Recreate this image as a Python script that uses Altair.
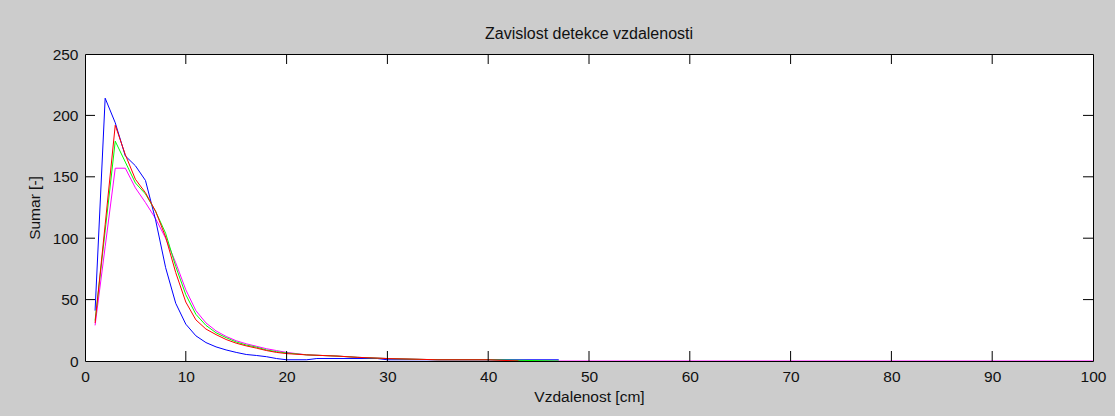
import altair as alt
import pandas as pd

# ---- data ----
x_blue = list(range(1, 21)) + [22, 23, 29, 30, 47]
y_blue = [41, 214, 194, 167, 159, 147, 115, 76, 47, 30, 20.5, 15, 11.5, 9, 7,
          5.3, 4.5, 3.5, 2, 1, 1, 2, 2, 1, 1]

x_red = list(range(1, 21)) + [22, 25, 27, 30, 35, 40, 43]
y_red = [31, 111, 192, 168, 148, 137, 122, 101, 72, 48, 33.5, 26, 21.5, 17.5,
         14.5, 12.3, 10.5, 8.5, 7, 6, 5, 4, 3, 2, 1, 1, 0]

x_green = list(range(1, 21)) + [22, 25, 27, 30, 35, 40, 47]
y_green = [33, 106, 179, 162, 145, 136, 122, 104, 77, 54, 38, 29, 23, 19,
           15.5, 13, 11.3, 9, 7.6, 6.5, 5, 4, 3, 2, 1, 1, 0]

x_magenta = list(range(1, 21)) + [22, 25, 27, 30, 35, 40, 45, 100]
y_magenta = [29, 93, 157, 157, 141, 129, 116, 100, 80, 58, 41, 31, 24.5, 20,
             16.5, 14, 12, 10, 8.5, 7, 5, 4, 3, 2, 1, 1, 0, 0]

x_ticks = [0, 10, 20, 30, 40, 50, 60, 70, 80, 90, 100]
y_ticks = [0, 50, 100, 150, 200, 250]

title_text = "Zavislost detekce vzdalenosti"
x_title = "Vzdalenost [cm]"
y_title = "Sumar [-]"

# drawing order: bottom -> top
series = [
    ("magenta", x_magenta, y_magenta, "#ff00ff"),
    ("blue", x_blue, y_blue, "#0000ff"),
    ("green", x_green, y_green, "#00ff00"),
    ("red", x_red, y_red, "#ff0000"),
]

W, H = 1008, 307
FONT = "Liberation Sans"
TICK = 10

xscale = alt.Scale(domain=[0, 100], nice=False, zero=False)
yscale = alt.Scale(domain=[0, 250], nice=False, zero=False)

xaxis = alt.Axis(title=x_title, values=x_ticks, tickSize=0, domain=False, grid=False,
                 labelFontSize=15.5, labelFont=FONT, labelColor="#111111",
                 labelPadding=8, labelOverlap=False, labelFlush=False,
                 titleFontSize=15.5, titleFont=FONT, titleFontWeight="normal",
                 titleColor="#111111", titlePadding=5)
yaxis = alt.Axis(title=y_title, values=y_ticks, tickSize=0, domain=False, grid=False,
                 labelFontSize=15.5, labelFont=FONT, labelColor="#111111",
                 labelPadding=7, labelOverlap=False, labelFlush=False,
                 titleFontSize=15.5, titleFont=FONT, titleFontWeight="normal",
                 titleColor="#111111", titlePadding=10)

layers = []
for name, xs, ys, col in series:
    df = pd.DataFrame({"x": xs, "y": ys})
    layers.append(
        alt.Chart(df).mark_line(color=col, strokeWidth=1, clip=True).encode(
            x=alt.X("x:Q", scale=xscale, axis=xaxis),
            y=alt.Y("y:Q", scale=yscale, axis=yaxis),
        )
    )

xt = pd.DataFrame({"t": x_ticks[1:-1]})
yt = pd.DataFrame({"t": y_ticks[1:-1]})

tick_color = "#000000"
layers.append(alt.Chart(xt).mark_rule(color=tick_color, strokeWidth=1).encode(
    x=alt.X("t:Q", scale=xscale, axis=xaxis), y=alt.value(H), y2=alt.value(H - TICK)))
layers.append(alt.Chart(xt).mark_rule(color=tick_color, strokeWidth=1).encode(
    x=alt.X("t:Q", scale=xscale, axis=xaxis), y=alt.value(0), y2=alt.value(TICK)))
layers.append(alt.Chart(yt).mark_rule(color=tick_color, strokeWidth=1).encode(
    y=alt.Y("t:Q", scale=yscale, axis=yaxis), x=alt.value(0), x2=alt.value(TICK)))
layers.append(alt.Chart(yt).mark_rule(color=tick_color, strokeWidth=1).encode(
    y=alt.Y("t:Q", scale=yscale, axis=yaxis), x=alt.value(W - TICK), x2=alt.value(W)))

chart = alt.layer(*layers).properties(
    width=W, height=H,
    title=alt.TitleParams(title_text, font=FONT, fontSize=16, fontWeight="normal",
                          color="#111111", anchor="middle", offset=5),
    autosize=alt.AutoSizeParams(type="none"),
    padding={"left": 85, "top": 54, "right": 22, "bottom": 55},
    background="#cccccc",
).configure_view(
    stroke="#000000", strokeWidth=1, fill="#ffffff"
)

chart.save("out.html", embed_options={"renderer": "svg", "actions": False})
